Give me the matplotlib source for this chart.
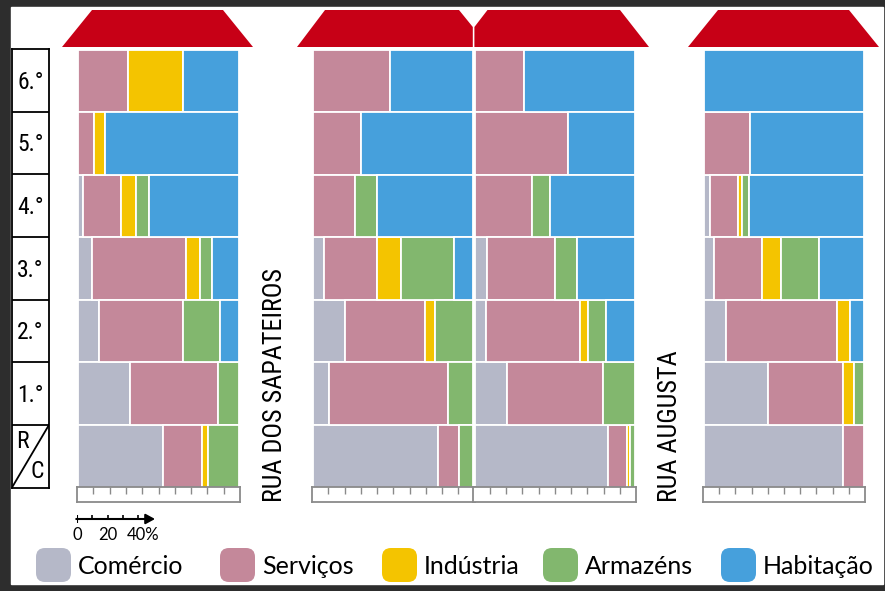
import os
import matplotlib.pyplot as plt
from matplotlib import font_manager as fm
from matplotlib.patches import Polygon, Rectangle, FancyBboxPatch
import numpy as np

# floors from top to bottom
floors = ["6.°", "5.°", "4.°", "3.°", "2.°", "1.°", "R/C"]
categories = ["Comércio", "Serviços", "Indústria", "Armazéns", "Habitação"]
colors = ["#b5b8c8", "#c4889a", "#f4c400", "#82b76e", "#46a0dc"]
streets = ["RUA DOS SAPATEIROS", "RUA AUGUSTA"]

# share (%) of each use per floor, one building at a time
b1_comercio = [0, 0, 3, 9, 13, 32, 53]
b1_servicos = [31, 10, 24, 58, 52, 55, 24]
b1_industria = [34, 7, 9, 9, 0, 0, 4]
b1_armazens = [0, 0, 8, 7, 23, 13, 19]
b1_habitacao = [35, 83, 56, 17, 12, 0, 0]

b2_comercio = [0, 0, 0, 7, 20, 10, 78]
b2_servicos = [48, 30, 26, 33, 50, 74, 13]
b2_industria = [0, 0, 0, 15, 6, 0, 0]
b2_armazens = [0, 0, 14, 33, 24, 16, 9]
b2_habitacao = [52, 70, 60, 12, 0, 0, 0]

b3_comercio = [0, 0, 0, 8, 7, 20, 83]
b3_servicos = [31, 58, 36, 42, 59, 60, 12]
b3_industria = [0, 0, 0, 0, 5, 0, 2]
b3_armazens = [0, 0, 11, 14, 11, 20, 3]
b3_habitacao = [69, 42, 53, 36, 18, 0, 0]

b4_comercio = [0, 0, 4, 6, 14, 40, 87]
b4_servicos = [0, 29, 17, 30, 69, 47, 13]
b4_industria = [0, 0, 3, 12, 8, 7, 0]
b4_armazens = [0, 0, 4, 24, 0, 6, 0]
b4_habitacao = [100, 71, 72, 28, 9, 0, 0]

buildings = [
    [b1_comercio, b1_servicos, b1_industria, b1_armazens, b1_habitacao],
    [b2_comercio, b2_servicos, b2_industria, b2_armazens, b2_habitacao],
    [b3_comercio, b3_servicos, b3_industria, b3_armazens, b3_habitacao],
    [b4_comercio, b4_servicos, b4_industria, b4_armazens, b4_habitacao],
]

scale_ticks = [0, 10, 20, 30, 40]
scale_labels = {0: "0", 20: "20", 40: "40%"}

SANS = ["Lato", "DejaVu Sans"]


def find_narrow_font():
    # look for an installed condensed / narrow regular face
    prefs = ["LiberationSansNarrow-Regular", "RobotoCondensed-Regular",
             "RobotoCondensed[", "DejaVuSansCondensed.", "NotoSans-Condensed.",
             "OpenSans-CondensedRegular", "OpenSansCondensed"]
    files = [f.fname for f in fm.fontManager.ttflist]
    for p in prefs:
        for fn in files:
            if os.path.basename(fn).startswith(p):
                return fm.FontProperties(fname=fn)
    bad = ["Bold", "Italic", "Oblique", "Light", "Thin", "Medium", "Black",
           "Extra", "Semi", "Ultra", "Mono"]
    for fn in files:
        b = os.path.basename(fn)
        if ("Condensed" in b or "Narrow" in b) and not any(w in b for w in bad):
            return fm.FontProperties(fname=fn)
    return fm.FontProperties(family="DejaVu Sans")


NARROW = find_narrow_font()

W, H = 885, 591
fig = plt.figure(figsize=(W / 100, H / 100), dpi=100, facecolor="#2d2d2d")


def px_box(x0, y0, x1, y1):
    # pixel box (top-left origin) -> figure fraction rect
    return [x0 / W, 1 - y1 / H, (x1 - x0) / W, (y1 - y0) / H]


# background layer in pixel units
bg = fig.add_axes([0, 0, 1, 1], zorder=0)
bg.set_xlim(0, W)
bg.set_ylim(H, 0)
bg.axis("off")
bg.add_patch(Rectangle((11, 7), 872, 577, color="white"))

roof_red = "#c70016"
roofs = [
    [(62, 47), (92, 10), (223, 10), (253, 47)],
    [(297, 47), (325, 10), (459, 10), (472.8, 27), (472.8, 47)],
    [(474.4, 47), (474.4, 27), (487.5, 10), (620, 10), (649, 47)],
    [(688, 47), (718, 10), (849, 10), (879, 47)],
]
for r in roofs:
    bg.add_patch(Polygon(r, closed=True, color=roof_red, lw=0))

# buildings
building_x = [(78, 239), (313, 473.5), (474.5, 635), (704, 864)]
top, bottom = 49.5, 487.5
y = np.arange(len(floors))
for (x0, x1), data in zip(building_x, buildings):
    ax = fig.add_axes(px_box(x0, top, x1, bottom), zorder=2)
    ax.set_xlim(0, 100)
    ax.set_ylim(len(floors) - 0.5, -0.5)
    left = np.zeros(len(floors))
    for vals, color in zip(data, colors):
        vals = np.array(vals, dtype=float)
        m = vals > 0
        ax.barh(y[m], vals[m], left=left[m], height=1, color=color,
                edgecolor="white", linewidth=1.3)
        left += vals
    ax.axis("off")

    # ruler under each building
    rl = fig.add_axes(px_box(x0 - 1, bottom - 0.5, x1 + 1, 502), zorder=3)
    rl.set_xlim(0, 100)
    rl.set_xticks(range(10, 100, 10))
    rl.set_yticks([])
    rl.tick_params(axis="x", direction="in", length=5, width=1, color="#8a8a8a",
                   top=True, bottom=False, labelbottom=False)
    for s in rl.spines.values():
        s.set_color("#8a8a8a")
        s.set_linewidth(1.3)

# floor label column
lab = fig.add_axes(px_box(12, top - 0.5, 49, bottom), zorder=2)
lab.set_xlim(0, 1)
lab.set_ylim(len(floors) - 0.5, -0.5)
lab.set_xticks([])
lab.set_yticks([])
for s in lab.spines.values():
    s.set_linewidth(1.3)
for k in range(len(floors) - 1):
    lab.axhline(k + 0.5, color="black", lw=1.3)
for i, f in enumerate(floors[:-1]):
    lab.text(0.5, i + 0.03, f, ha="center", va="center", fontsize=17,
             fontproperties=NARROW)
last = len(floors) - 1
lab.plot([0, 1], [last + 0.5, last - 0.5], color="black", lw=1.3)
r_txt, c_txt = floors[-1].split("/")
lab.text(0.28, last - 0.24, r_txt, ha="center", va="center", fontsize=17,
         fontproperties=NARROW)
lab.text(0.68, last + 0.24, c_txt, ha="center", va="center", fontsize=17,
         fontproperties=NARROW)

# street names, sized so the long one spans its space
street_x = [282, 677]
street_txt = []
for sx, name in zip(street_x, streets):
    street_txt.append(bg.text(sx, 502, name, rotation=90, rotation_mode="anchor",
                              ha="left", va="baseline", fontsize=19,
                              fontproperties=NARROW))
renderer = fig.canvas.get_renderer()
length = street_txt[0].get_window_extent(renderer).height
size = min(20.5, 19 * 234 / length)
for t in street_txt:
    t.set_fontsize(size)

# scale bar
sc = fig.add_axes(px_box(77, 505, 77 + 153, 545), zorder=2)
sc.set_xlim(0, 100)
sc.set_ylim(1, 0)
sc.axis("off")
sc.annotate("", xy=(51, 0.35), xytext=(-0.5, 0.35),
            arrowprops=dict(arrowstyle="-|>,head_length=0.55,head_width=0.3",
                            color="black", lw=1.5, shrinkA=0, shrinkB=0))
sc.vlines(scale_ticks, 0.26, 0.35, color="black", lw=1.2)
sc.vlines([0], 0.26, 0.45, color="black", lw=1.5)
for t, s in scale_labels.items():
    off = 0 if t < 40 else 3.5
    sc.text(t + off, 0.75, s, ha="center", va="center", fontsize=12, family=SANS)

# legend
leg_x = [36, 220, 382, 543, 721]
for lx, cat, color in zip(leg_x, categories, colors):
    bg.add_patch(FancyBboxPatch((lx, 548), 35, 34,
                                boxstyle="round,pad=0,rounding_size=9",
                                color=color, lw=0))
    bg.text(lx + 42, 566, cat, ha="left", va="center", fontsize=18, family=SANS)

fig.savefig("out.png", dpi=100, facecolor=fig.get_facecolor())
